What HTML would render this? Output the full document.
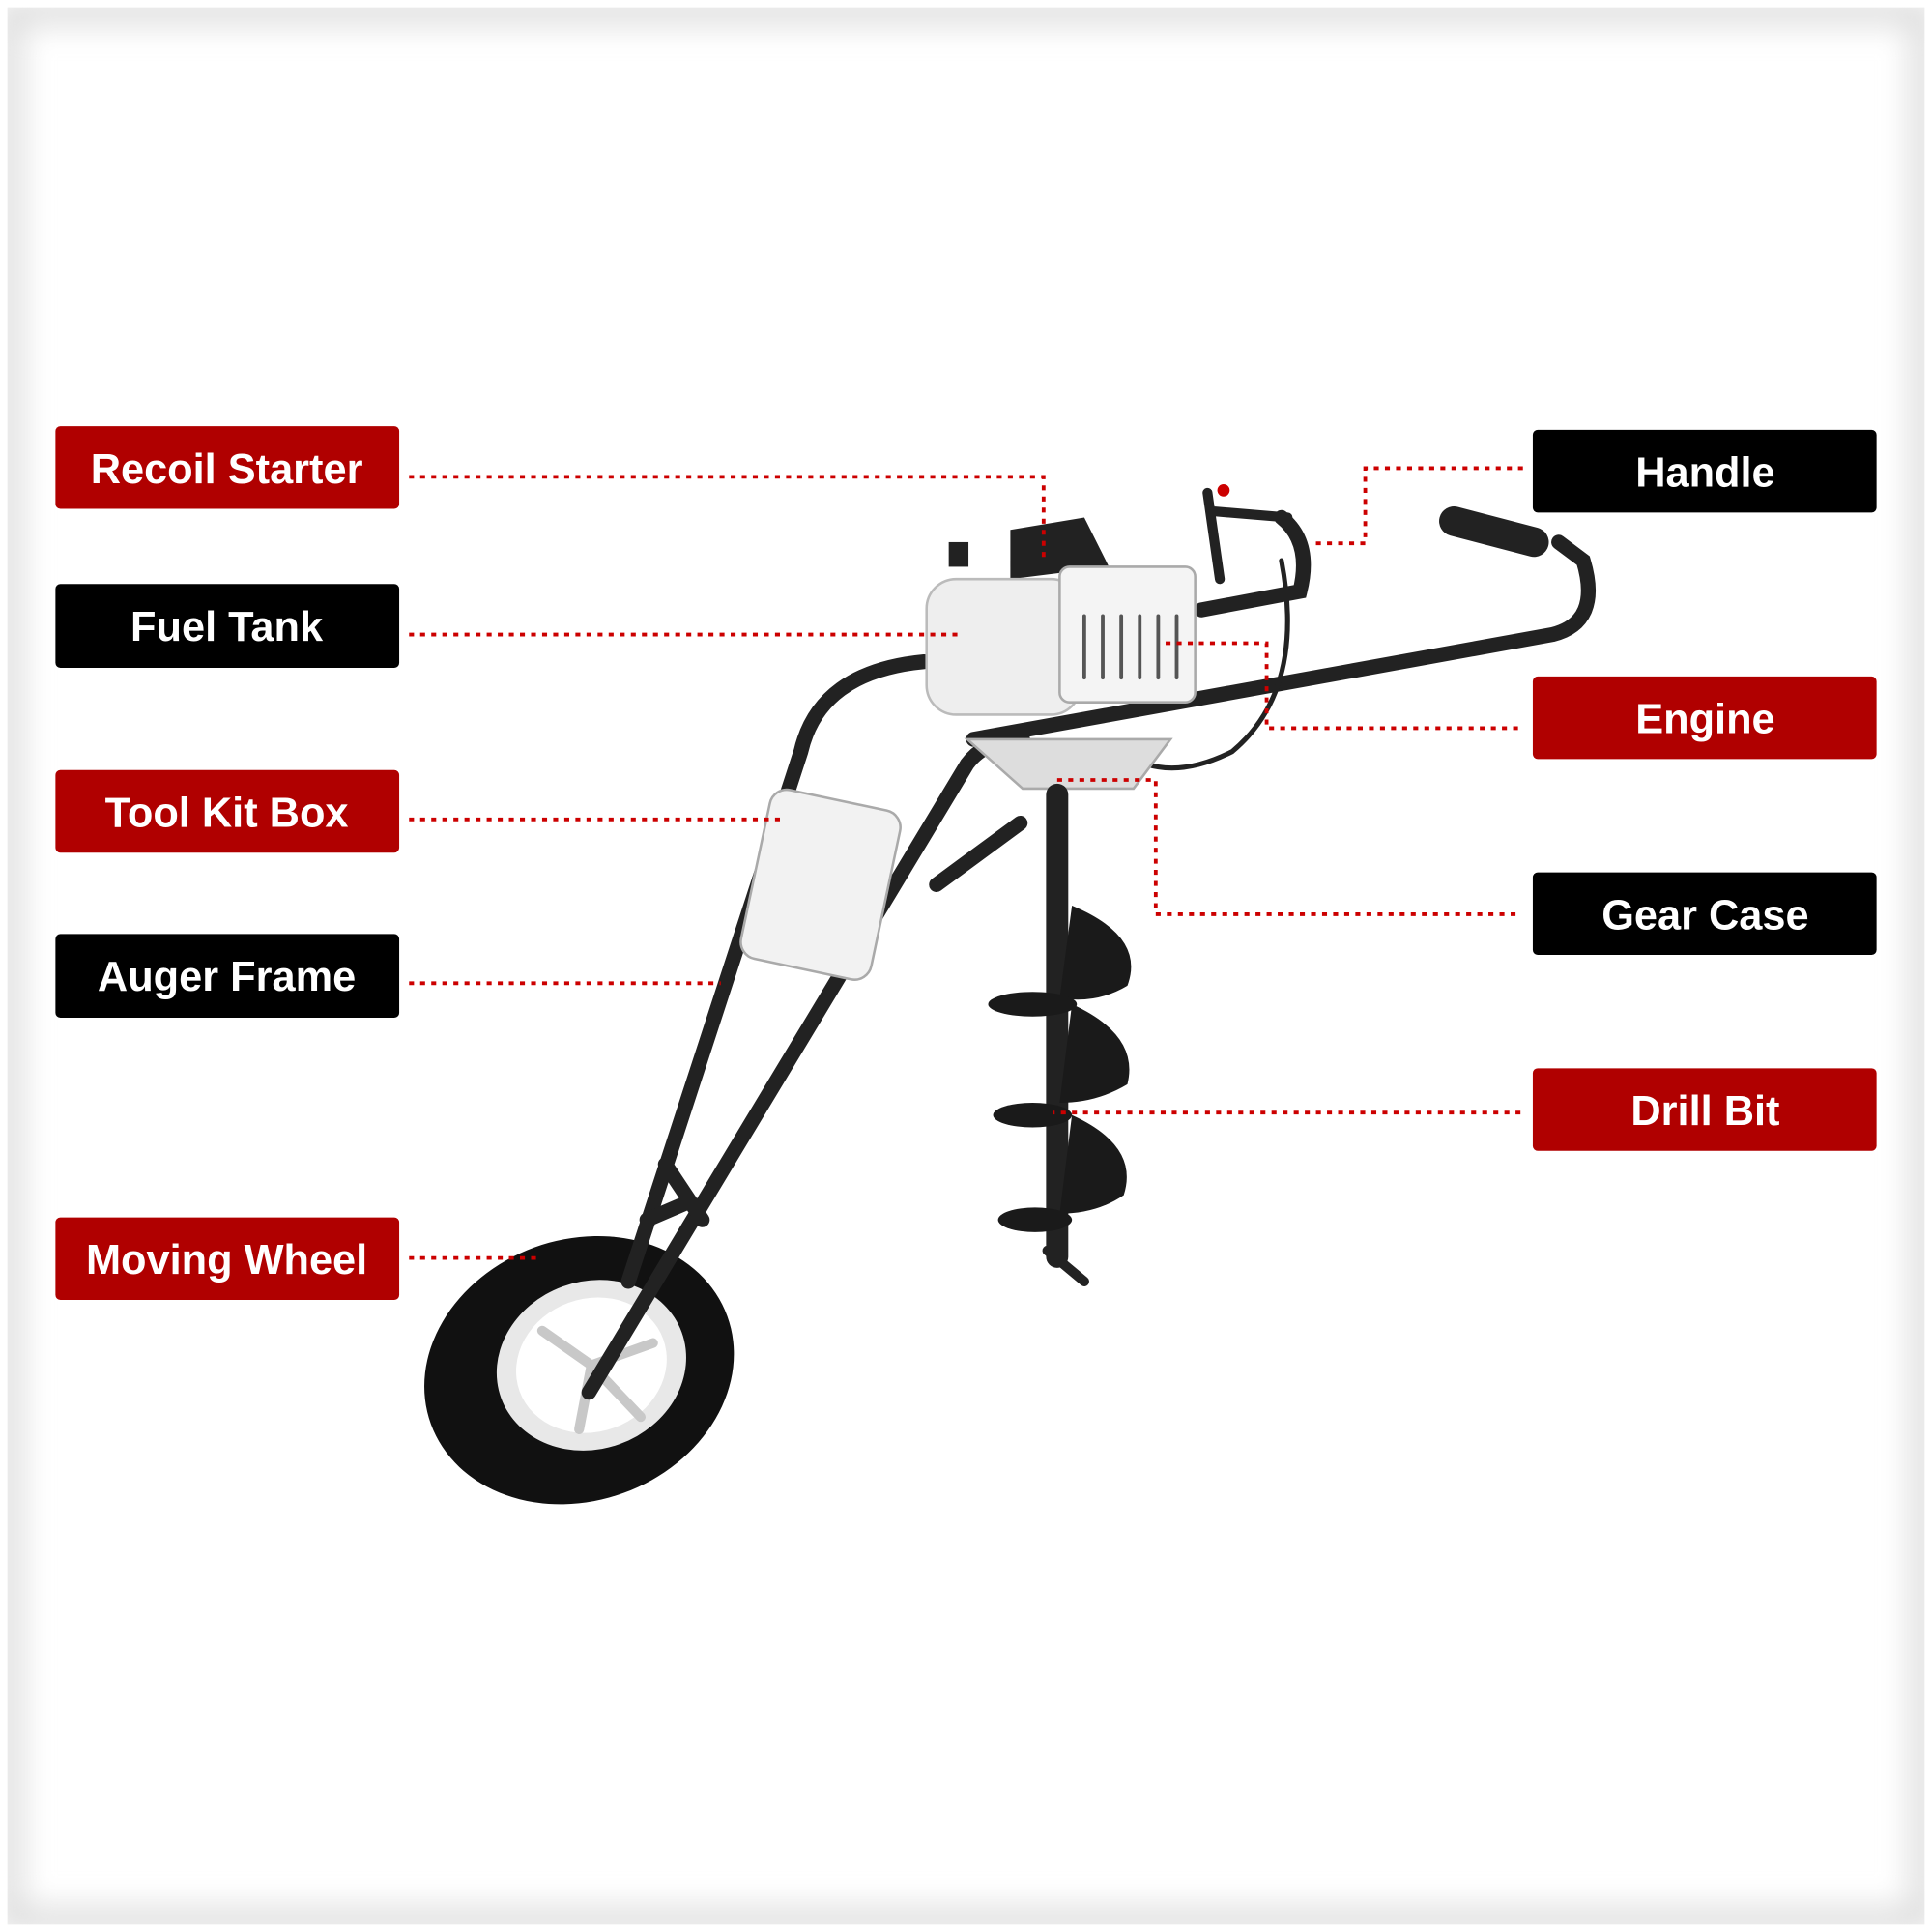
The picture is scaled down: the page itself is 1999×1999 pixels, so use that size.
<!DOCTYPE html>
<html><head><meta charset="utf-8"><style>
html,body{margin:0;padding:0;background:#fff;}
#wrap{width:1999px;height:1999px;position:relative;overflow:hidden;background:#fff;}
svg{position:absolute;left:0;top:0;}
</style></head><body><div id="wrap">
<svg width="1999" height="1999" viewBox="0 0 1568 1568" xmlns="http://www.w3.org/2000/svg">
<defs>
<filter id="blur" x="-10%" y="-10%" width="120%" height="120%"><feGaussianBlur stdDeviation="12"/></filter>
</defs>
<rect x="0" y="0" width="1568" height="1568" fill="#fff"/>
<rect x="8" y="10" width="1552" height="1548" fill="none" stroke="#dcdcdc" stroke-width="20" filter="url(#blur)"/>
<rect x="0" y="0" width="1568" height="1568" fill="none" stroke="#fff" stroke-width="12"/>

<g stroke-linecap="round" fill="none">
<ellipse cx="470" cy="1112" rx="128" ry="106" fill="#111" transform="rotate(-20 470 1112)"/>
<ellipse cx="480" cy="1108" rx="78" ry="68" fill="#e8e8e8" transform="rotate(-20 480 1108)"/>
<ellipse cx="480" cy="1108" rx="62" ry="54" fill="#fff" transform="rotate(-20 480 1108)"/>
<g stroke="#c8c8c8" stroke-width="8"><line x1="480" y1="1108" x2="440" y2="1080"/><line x1="480" y1="1108" x2="530" y2="1090"/><line x1="480" y1="1108" x2="470" y2="1160"/><line x1="480" y1="1108" x2="520" y2="1150"/></g>
<g stroke="#222" stroke-width="12">
<path d="M510 1040 L650 610 Q665 545 750 537"/>
<path d="M478 1130 L785 620 Q800 600 830 600"/>
<line x1="525" y1="990" x2="560" y2="975"/>
<line x1="540" y1="945" x2="570" y2="990"/>
<path d="M790 600 L1260 515 Q1300 505 1285 455 L1265 440"/>
<line x1="760" y1="718" x2="828" y2="668"/>
<path d="M975 495 L1055 480 Q1065 440 1040 420"/>
<path d="M1040 455 Q1060 560 1000 610 Q960 630 930 620" stroke-width="4"/>
</g>
<line x1="1180" y1="423" x2="1245" y2="440" stroke="#222" stroke-width="24"/>
<path d="M980 400 L990 470 M985 415 L1045 420" stroke="#222" stroke-width="8"/>
<circle cx="993" cy="398" r="5" fill="#c00"/>
<rect x="612" y="648" width="108" height="140" rx="14" fill="#f2f2f2" stroke="#aaa" stroke-width="2" transform="rotate(12 666 718)"/>
<path d="M820 430 L880 420 L900 460 L820 470 Z" fill="#222"/>
<rect x="752" y="470" width="125" height="110" rx="24" fill="#eee" stroke="#bbb" stroke-width="2"/>
<rect x="770" y="440" width="16" height="20" fill="#222"/>
<rect x="860" y="460" width="110" height="110" rx="8" fill="#f4f4f4" stroke="#aaa" stroke-width="2"/>
<g stroke="#555" stroke-width="3"><line x1="880" y1="500" x2="880" y2="550"/><line x1="895" y1="500" x2="895" y2="550"/><line x1="910" y1="500" x2="910" y2="550"/><line x1="925" y1="500" x2="925" y2="550"/><line x1="940" y1="500" x2="940" y2="550"/><line x1="955" y1="500" x2="955" y2="550"/></g>
<path d="M785 600 L950 600 L920 640 L830 640 Z" fill="#ddd" stroke="#aaa" stroke-width="2"/>
<line x1="858" y1="645" x2="858" y2="1020" stroke="#222" stroke-width="18"/>
<line x1="850" y1="1015" x2="880" y2="1040" stroke="#222" stroke-width="8"/>
<g fill="#1a1a1a" stroke="none">
<path d="M870 735 Q930 760 915 800 Q890 815 860 810 Z"/>
<ellipse cx="838" cy="815" rx="36" ry="10"/>
<path d="M870 815 Q925 840 915 880 Q890 895 860 895 Z"/>
<ellipse cx="838" cy="905" rx="32" ry="10"/>
<path d="M870 905 Q925 930 912 970 Q890 985 860 985 Z"/>
<ellipse cx="840" cy="990" rx="30" ry="10"/>
</g>
</g>

<g fill="none" stroke="#c00" stroke-width="3" stroke-dasharray="4 5">
<path d="M332 387 H847 V455"/>
<path d="M332 515 H777"/>
<path d="M332 665 H635"/>
<path d="M332 798 H585"/>
<path d="M332 1021 H437"/>
<path d="M1236 380 H1108 V441 H1065"/>
<path d="M1232 591 H1028 V522 H945"/>
<path d="M1230 742 H938 V633 H855"/>
<path d="M1234 903 H855"/>
</g>

<g font-family="Liberation Sans, Arial, sans-serif" font-weight="bold" font-size="34" fill="#fff" text-anchor="middle">
<rect x="45" y="346" width="279" height="67" rx="4" fill="#b00000"/><text x="184" y="392">Recoil Starter</text>
<rect x="45" y="474" width="279" height="68" rx="4" fill="#000"/><text x="184" y="520">Fuel Tank</text>
<rect x="45" y="625" width="279" height="67" rx="4" fill="#b00000"/><text x="184" y="671">Tool Kit Box</text>
<rect x="45" y="758" width="279" height="68" rx="4" fill="#000"/><text x="184" y="804">Auger Frame</text>
<rect x="45" y="988" width="279" height="67" rx="4" fill="#b00000"/><text x="184" y="1034">Moving Wheel</text>
<rect x="1244" y="349" width="279" height="67" rx="4" fill="#000"/><text x="1384" y="395">Handle</text>
<rect x="1244" y="549" width="279" height="67" rx="4" fill="#b00000"/><text x="1384" y="595">Engine</text>
<rect x="1244" y="708" width="279" height="67" rx="4" fill="#000"/><text x="1384" y="754">Gear Case</text>
<rect x="1244" y="867" width="279" height="67" rx="4" fill="#b00000"/><text x="1384" y="913">Drill Bit</text>
</g>
</svg>
</div></body></html>
